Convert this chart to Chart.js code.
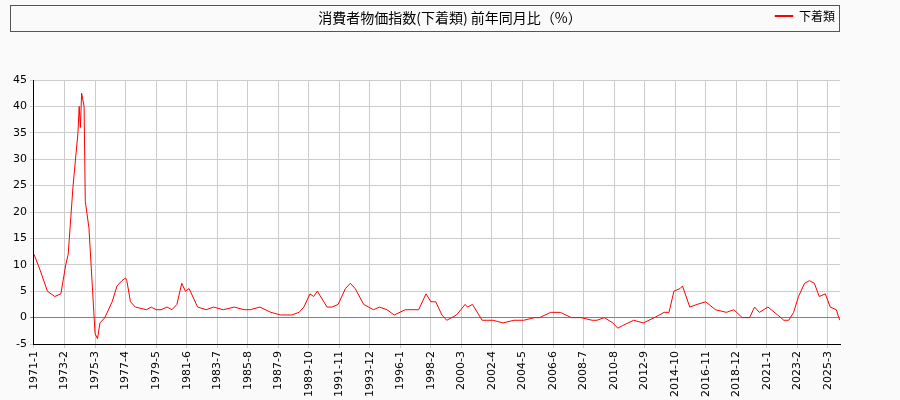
<!DOCTYPE html>
<html>
<head>
<meta charset="utf-8">
<script src="https://cdn.jsdelivr.net/npm/chart.js@4"></script>
<style>
  body { margin: 0; background: #fafafa; }
  #wrap { width: 900px; height: 400px; position: relative; }
</style>
</head>
<body>
<div id="wrap"><canvas id="chart" width="900" height="400"></canvas></div>
<script>
// months since 1971-1 and year-over-year % change
const monthIdx = [0, 5, 11, 17, 22, 26, 28, 32, 36, 37, 38, 39, 41, 42, 45, 48, 50, 52, 54, 58,
    64, 68, 72, 75, 76, 79, 83, 92, 96, 100, 104, 109, 113, 117, 121, 124, 127, 134, 141, 147,
    155, 164, 172, 177, 185, 194, 202, 211, 217, 221, 226, 229, 232, 240, 244, 249, 255, 259, 263, 270,
    278, 283, 289, 295, 304, 312, 315, 321, 325, 329, 334, 338, 342, 346, 353, 355, 359, 367, 376, 384,
    393, 401, 410, 414, 423, 431, 440, 448, 457, 461, 467, 474, 478, 482, 491, 499, 508, 516, 520, 524,
    529, 531, 537, 543, 550, 558, 567, 573, 580, 584, 586, 590, 594, 601, 609, 614, 618, 622, 626, 631,
    635, 639, 643, 648, 652, 657, 659, 660];
const values = [12, 9, 5, 4, 4.5, 10, 12, 25, 35, 40, 36, 42.5, 40, 22, 17, 5, -3, -4, -1, 0,
    3, 6, 7, 7.5, 7, 3, 2, 1.5, 2, 1.5, 1.5, 2, 1.5, 2.5, 6.5, 5, 5.5, 2, 1.5, 2,
    1.5, 2, 1.5, 1.5, 2, 1, 0.5, 0.5, 1, 2, 4.5, 4, 5, 2, 2, 2.5, 5.5, 6.5, 5.5, 2.5,
    1.5, 2, 1.5, 0.5, 1.5, 1.5, 1.5, 4.5, 3, 3, 0.5, -0.5, 0, 0.5, 2.5, 2, 2.5, -0.5, -0.5, -1,
    -0.5, -0.5, 0, 0, 1, 1, 0, 0, -0.5, -0.5, 0, -1, -2, -1.5, -0.5, -1, 0, 1, 1, 5,
    5.5, 6, 2, 2.5, 3, 1.5, 1, 1.5, 0, 0, 0, 2, 1, 2, 0.5, -0.5, -0.5, 1, 4, 6.5,
    7, 6.5, 4, 4.5, 2, 1.5, 0, -0.5, 0.3];
const seriesName = '下着類';
const titleText = '消費者物価指数(下着類) 前年同月比（%）';

const points = monthIdx.map((m, i) => ({x: m, y: values[i]}));

function monthLabel(m) {
    return (1971 + Math.floor(m / 12)) + '-' + (m % 12 + 1);
}

const decor = {
    id: 'decor',
    beforeDraw(chart) {
        const a = chart.chartArea, ctx = chart.ctx;
        ctx.save();
        ctx.fillStyle = '#ffffff';
        ctx.fillRect(a.left, a.top, a.right - a.left, a.bottom - a.top);
        ctx.restore();
    },
    afterDraw(chart) {
        const ctx = chart.ctx, lg = chart.legend;
        ctx.save();
        ctx.fillStyle = '#000';
        ctx.font = '14px "Noto Sans CJK JP"';
        ctx.textAlign = 'center';
        ctx.textBaseline = 'middle';
        ctx.fillText(titleText, 450, 18);
        ctx.strokeStyle = '#555';
        ctx.lineWidth = 1;
        ctx.strokeRect(lg.left + 0.5, lg.top + 0.5, lg.width - 1, lg.height - 1);
        ctx.restore();
    }
};

new Chart(document.getElementById('chart'), {
    type: 'line',
    data: {
        datasets: [{
            label: seriesName,
            data: points,
            borderColor: '#ff0000',
            backgroundColor: '#ff0000',
            borderWidth: 1,
            pointRadius: 0,
            tension: 0
        }]
    },
    options: {
        responsive: false,
        animation: false,
        layout: { padding: { left: 10, right: 60, top: 5, bottom: 0 } },
        font: { family: 'DejaVu Sans' },
        plugins: {
            title: { display: false },
            subtitle: { display: true, text: ' ', font: { size: 10 }, padding: { top: 0, bottom: 36 } },
            legend: {
                position: 'top', align: 'end', weight: 3000,
                labels: { boxWidth: 18, boxHeight: 1, padding: 5, color: '#000', font: { size: 12, family: 'Noto Sans CJK JP' } }
            },
            tooltip: { enabled: false }
        },
        scales: {
            x: {
                type: 'linear', min: 0, max: 660,
                afterBuildTicks: (ax) => {
                    const t = [];
                    for (let m = 0; m <= 650; m += 25) t.push({value: m});
                    ax.ticks = t;
                },
                ticks: { callback: (v) => monthLabel(v), maxRotation: 90, minRotation: 90, color: '#000', font: { size: 11 }, autoSkip: false },
                grid: { color: '#cccccc', tickLength: 4 },
                border: { color: '#000' }
            },
            y: {
                min: -5, max: 45,
                ticks: { stepSize: 5, color: '#000', font: { size: 11 } },
                grid: {
                    color: (c) => c.tick && c.tick.value === 0 ? '#00dd00' : '#cccccc',
                    tickLength: 4
                },
                border: { color: '#000' }
            }
        }
    },
    plugins: [decor]
});
</script>
</body>
</html>
